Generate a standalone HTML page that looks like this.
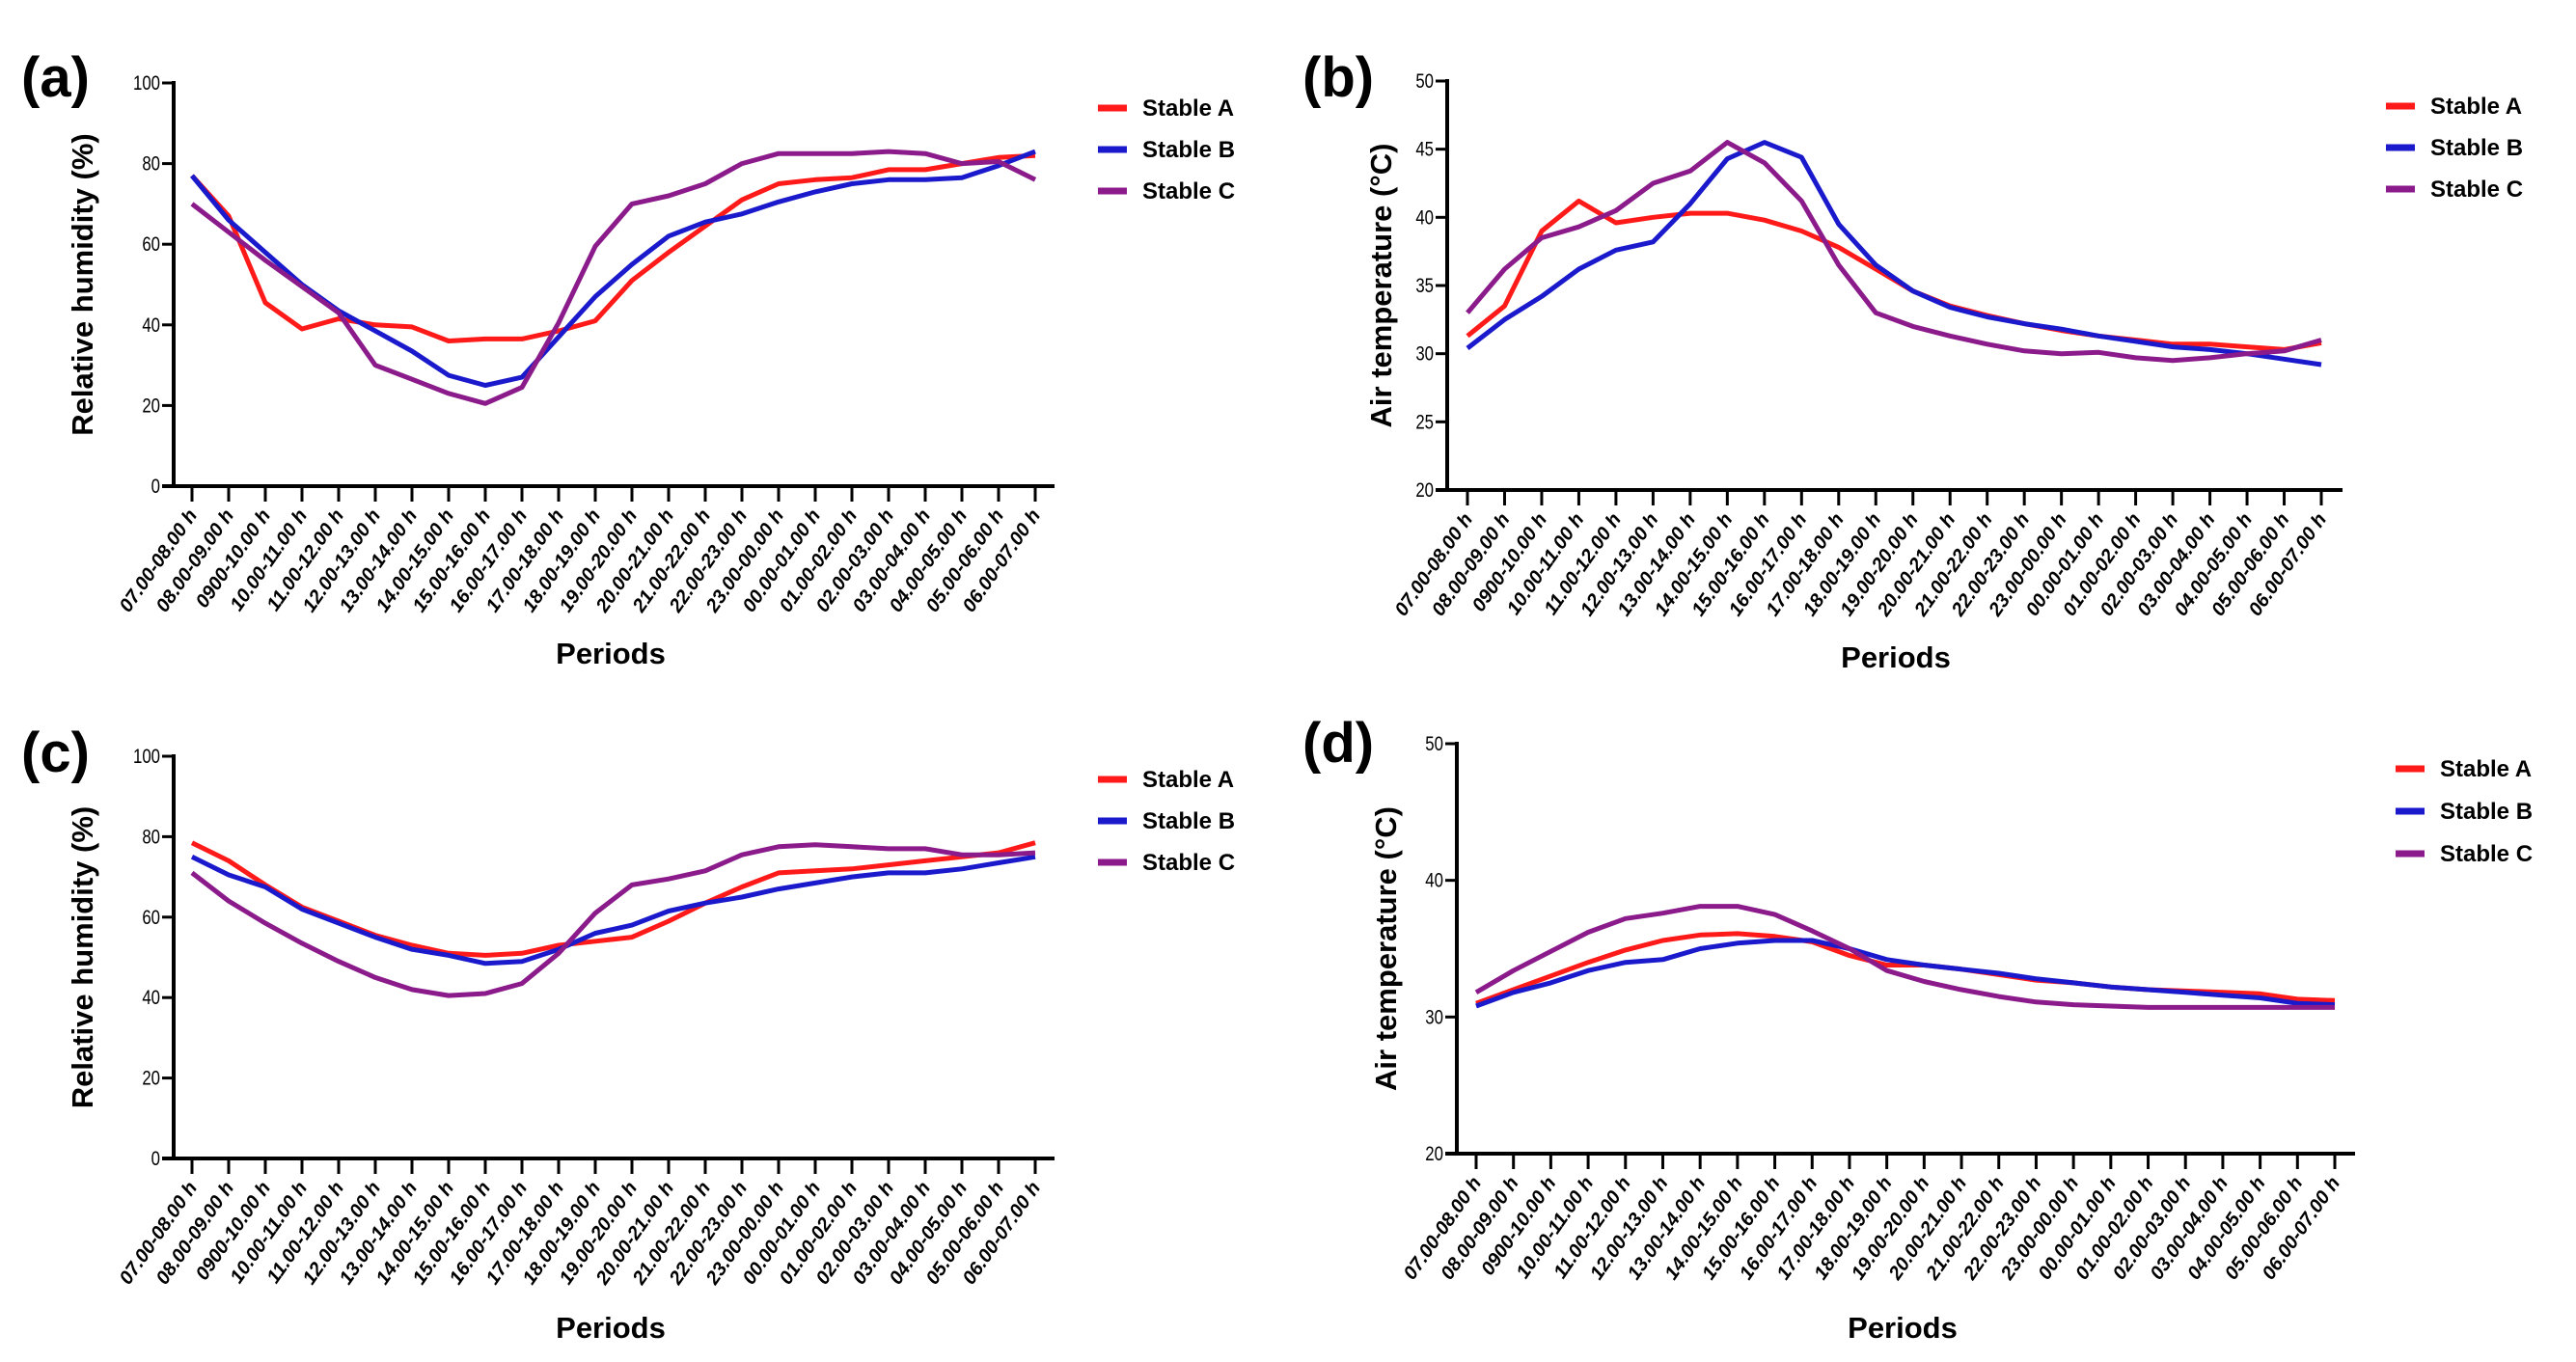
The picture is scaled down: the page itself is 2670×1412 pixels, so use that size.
<!DOCTYPE html>
<html><head><meta charset="utf-8"><style>
body{margin:0;background:#fff;}
svg{display:block;font-family:"Liberation Sans",Arial,sans-serif;}
</style></head><body>
<svg id="chart" width="2670" height="1412" viewBox="0 0 2670 1412" xmlns="http://www.w3.org/2000/svg"></svg>
<script>
const periods = ["07.00-08.00 h","08.00-09.00 h","0900-10.00 h","10.00-11.00 h","11.00-12.00 h","12.00-13.00 h","13.00-14.00 h","14.00-15.00 h","15.00-16.00 h","16.00-17.00 h","17.00-18.00 h","18.00-19.00 h","19.00-20.00 h","20.00-21.00 h","21.00-22.00 h","22.00-23.00 h","23.00-00.00 h","00.00-01.00 h","01.00-02.00 h","02.00-03.00 h","03.00-04.00 h","04.00-05.00 h","05.00-06.00 h","06.00-07.00 h"];
const seriesNames = ["Stable A","Stable B","Stable C"];
const rhTicks = [0,20,40,60,80,100];
const tTicks = [20,25,30,35,40,45,50];
const tTicksD = [20,30,40,50];
const aStableA = [77,67,45.5,39,41.5,40,39.5,36,36.5,36.5,38.5,41,51,58,64.5,71,75,76,76.5,78.5,78.5,80,81.5,82];
const aStableB = [77,66,58,50,43.5,38.5,33.5,27.5,25,27,37,47,55,62,65.5,67.5,70.5,73,75,76,76,76.5,79.5,83];
const aStableC = [70,63,56,49.5,43,30,26.5,23,20.5,24.5,40.5,59.5,70,72,75,80,82.5,82.5,82.5,83,82.5,80,80.5,76];
const bStableA = [31.3,33.5,39,41.2,39.6,40,40.3,40.3,39.8,39,37.8,36.2,34.6,33.5,32.8,32.2,31.7,31.3,31,30.7,30.7,30.5,30.3,30.8];
const bStableB = [30.4,32.5,34.2,36.2,37.6,38.2,41,44.3,45.5,44.4,39.5,36.5,34.6,33.4,32.7,32.2,31.8,31.3,30.9,30.5,30.3,30,29.6,29.2];
const bStableC = [33,36.2,38.5,39.3,40.5,42.5,43.4,45.5,44,41.2,36.5,33,32,31.3,30.7,30.2,30,30.1,29.7,29.5,29.7,30,30.2,31];
const cStableA = [78.5,74,68,62.5,59,55.5,53,51,50.5,51,53,54,55,59,63.5,67.5,71,71.5,72,73,74,75,76,78.5];
const cStableB = [75,70.5,67.5,62,58.5,55,52,50.5,48.5,49,52,56,58,61.5,63.5,65,67,68.5,70,71,71,72,73.5,75];
const cStableC = [71,64,58.5,53.5,49,45,42,40.5,41,43.5,51,61,68,69.5,71.5,75.5,77.5,78,77.5,77,77,75.5,75.5,76];
const dStableA = [31,32,33,34,34.9,35.6,36,36.1,35.9,35.5,34.5,33.8,33.8,33.5,33.1,32.7,32.5,32.2,32,31.9,31.8,31.7,31.3,31.2];
const dStableB = [30.8,31.8,32.5,33.4,34,34.2,35,35.4,35.6,35.6,35,34.2,33.8,33.5,33.2,32.8,32.5,32.2,32,31.8,31.6,31.4,31,30.9];
const dStableC = [31.8,33.4,34.8,36.2,37.2,37.6,38.1,38.1,37.5,36.3,35,33.4,32.6,32,31.5,31.1,30.9,30.8,30.7,30.7,30.7,30.7,30.7,30.7];

const colors = ["#ff1a1a","#1a1acc","#8b1a8b"];
const NS = "http://www.w3.org/2000/svg";
const svg = document.getElementById("chart");
function mk(tag, attrs, parent){const e=document.createElementNS(NS,tag);for(const k in attrs)e.setAttribute(k,attrs[k]);(parent||svg).appendChild(e);return e;}

function panel(p){
  const g = mk("g",{});
  
  
  const yScale = v => p.y0 + (v - p.vmin)/(p.vmax - p.vmin)*(p.y1 - p.y0);
  const xScale = i => p.tx0 + i*(p.tx1 - p.tx0)/(periods.length-1);
  // panel letter
  const lt = mk("text",{x:p.lx,y:p.ly,"font-size":58,"font-weight":"bold",fill:"#000"},g);
  lt.textContent = "("+p.id+")";
  
  
  // axes
  const ya = mk("line",{x1:p.ax,y1:p.y1-2,x2:p.ax,y2:p.y0+2,stroke:"#000","stroke-width":4},g);
  
  
  const xa = mk("line",{x1:p.ax-12,y1:p.y0,x2:p.axEnd,y2:p.y0,stroke:"#000","stroke-width":4},g);
  
  
  p.ticks.forEach(t=>{
    const y=yScale(t);
    mk("line",{x1:p.ax-12,y1:y,x2:p.ax,y2:y,stroke:"#000","stroke-width":3},g);
    const tl = mk("text",{x:p.ax-14,y:y+7,"font-size":21,"text-anchor":"end",fill:"#000",transform:`translate(${p.ax-14},0) scale(0.8,1) translate(${-(p.ax-14)},0)`},g);
    tl.textContent = t;
    
    
  });
  periods.forEach((lab,i)=>{
    const x=xScale(i);
    mk("line",{x1:x,y1:p.y0,x2:x,y2:p.y0+16,stroke:"#000","stroke-width":3},g);
    const tx=x+6, ty=p.y0+30;
    const tl = mk("text",{x:tx,y:ty,"font-size":20,"font-weight":"bold","font-style":"italic","text-anchor":"end",fill:"#000",transform:`rotate(-55 ${tx} ${ty})`},g);
    tl.textContent = lab;
    
    
  });
  // axis titles
  const yt = mk("text",{x:0,y:0,"font-size":31,"font-weight":"bold","text-anchor":"middle",fill:"#000",transform:`translate(${p.ytx},${(p.y0+p.y1)/2}) rotate(-90)`},g);
  yt.textContent = p.ytitle;
  
  
  const xt = mk("text",{x:p.xtx,y:p.xty,"font-size":31,"font-weight":"bold","text-anchor":"middle",fill:"#000"},g);
  xt.textContent = "Periods";
  
  
  // series
  p.series.forEach((arr,s)=>{
    const pts = arr.map((v,i)=>xScale(i).toFixed(1)+","+yScale(v).toFixed(1)).join(" ");
    const pl = mk("polyline",{points:pts,fill:"none",stroke:colors[s],"stroke-width":5,"stroke-linejoin":"round"},g);
    
    
  });
  // legend
  seriesNames.forEach((n,s)=>{
    const y = p.legY + s*p.legGap;
    const lg = mk("g",{},g);
    
    
    mk("line",{x1:p.legX,y1:y,x2:p.legX+30,y2:y,stroke:colors[s],"stroke-width":7},lg);
    const lt2 = mk("text",{x:p.legX+46,y:y+8,"font-size":24,"font-weight":"bold",fill:"#000"},lg);
    lt2.textContent = n;
  });
}

panel({id:"a",ax:180,axEnd:1093,y0:504,y1:86,vmin:0,vmax:100,tx0:199,tx1:1073,ticks:rhTicks,
  lx:22,ly:100,ytx:96,ytitle:"Relative humidity (%)",xtx:633,xty:688,legX:1138,legY:112,legGap:43,
  series:[aStableA,aStableB,aStableC]});
panel({id:"b",ax:1500,axEnd:2428,y0:508,y1:84,vmin:20,vmax:50,tx0:1521,tx1:2406,ticks:tTicks,
  lx:1350,ly:100,ytx:1442,ytitle:"Air temperature (°C)",xtx:1965,xty:692,legX:2473,legY:110,legGap:43,
  series:[bStableA,bStableB,bStableC]});
panel({id:"c",ax:180,axEnd:1093,y0:1201,y1:784,vmin:0,vmax:100,tx0:199,tx1:1073,ticks:rhTicks,
  lx:22,ly:800,ytx:96,ytitle:"Relative humidity (%)",xtx:633,xty:1387,legX:1138,legY:808,legGap:43,
  series:[cStableA,cStableB,cStableC]});
panel({id:"d",ax:1510,axEnd:2441,y0:1196,y1:771,vmin:20,vmax:50,tx0:1530,tx1:2420,ticks:tTicksD,
  lx:1350,ly:790,ytx:1447,ytitle:"Air temperature (°C)",xtx:1972,xty:1387,legX:2483,legY:797,legGap:44,
  series:[dStableA,dStableB,dStableC]});
</script>
</body></html>
